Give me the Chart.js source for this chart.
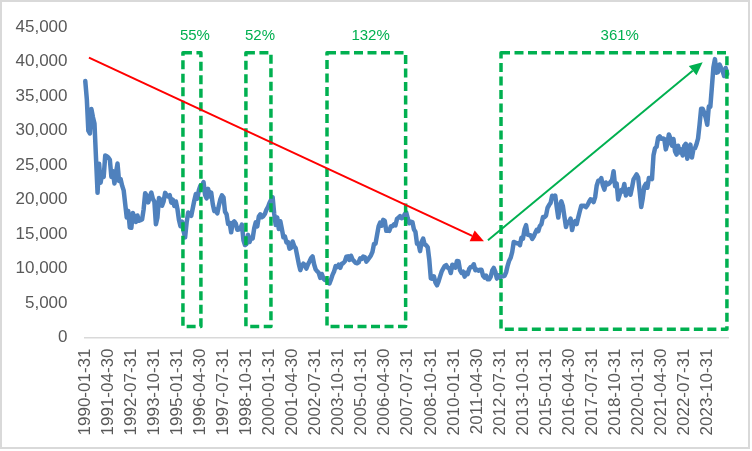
<!DOCTYPE html>
<html>
<head>
<meta charset="utf-8">
<script src="https://cdn.jsdelivr.net/npm/chart.js@4.4.1/dist/chart.umd.min.js"></script>
<style>
  html, body { margin: 0; padding: 0; background: #ffffff; }
  #wrap { width: 752px; height: 451px; position: relative; }
</style>
</head>
<body>
<div id="wrap"><canvas id="chart" width="752" height="451"></canvas></div>
<script>
// month-end closes, Jan 1990 .. Nov 2024 (one row per year)
const closes = [
  37189, 34591, 29980, 29584, 33131, 31940, 31036, 25978, 20984, 25194, 22454, 23849,
  23293, 26409, 26292, 26111, 25790, 23291, 24121, 22336, 23916, 25222, 22688, 22984,
  22023, 21339, 19346, 17391, 18348, 15952, 15910, 18061, 17399, 16767, 17684, 16925,
  17024, 17113, 18591, 20919, 20552, 19590, 20380, 21027, 20106, 19704, 16408, 17417,
  20229, 19997, 19112, 19725, 20974, 20644, 20450, 20629, 19564, 19990, 19076, 19723,
  18650, 17053, 16140, 16807, 15437, 14517, 16678, 18117, 17913, 17655, 18744, 19868,
  20813, 20125, 21407, 22041, 21956, 22531, 20693, 20167, 21556, 20467, 21020, 19361,
  18330, 18557, 18003, 19151, 20069, 20605, 20331, 18229, 17888, 16459, 16636, 15259,
  16629, 16832, 16527, 15641, 15671, 15831, 16379, 14108, 13406, 13565, 14884, 13842,
  14499, 14368, 15837, 16702, 16112, 17530, 17862, 17437, 17605, 17942, 18558, 18934,
  19540, 19960, 20337, 17974, 16332, 17411, 15727, 16861, 15747, 14540, 14649, 13786,
  13844, 12884, 12999, 13934, 13262, 12969, 11861, 10714, 9775, 10367, 10697, 10543,
  9998, 10588, 11025, 11493, 11764, 10622, 9878, 9619, 9383, 8640, 9216, 8579,
  8340, 8363, 7973, 7831, 8425, 9083, 9563, 10344, 10219, 10560, 10101, 10677,
  10783, 11042, 11715, 11762, 11237, 11859, 11326, 11082, 10824, 10771, 10899, 11489,
  11388, 11741, 11669, 11009, 11277, 11584, 11900, 12414, 13574, 13607, 14872, 16111,
  16650, 16205, 17060, 16907, 15467, 15505, 15457, 16141, 16128, 16399, 16274, 17226,
  17383, 17604, 17288, 17400, 17876, 18138, 17249, 16569, 16786, 16737, 15681, 15308,
  13592, 13603, 12526, 13850, 14339, 13481, 13377, 13073, 11260, 8577, 8512, 8860,
  7994, 7568, 8110, 8828, 9523, 9958, 10357, 10493, 10133, 10035, 9346, 10546,
  10198, 10126, 11090, 11057, 9769, 9383, 9537, 8824, 9369, 9202, 9937, 10229,
  10237, 10624, 9755, 9850, 9694, 9816, 9833, 8955, 8700, 8988, 8434, 8455,
  8803, 9723, 10084, 9521, 8543, 9007, 8695, 8840, 8870, 8928, 9446, 10395,
  11139, 11559, 12398, 13861, 13775, 13677, 13668, 13389, 14456, 14328, 15662, 16291,
  14915, 14841, 14828, 14304, 14632, 15162, 15621, 15425, 16174, 16414, 17460, 17451,
  17674, 18798, 19207, 19520, 20563, 20236, 20585, 18890, 17388, 19083, 19747, 19034,
  17518, 16027, 16759, 16666, 17235, 15576, 16569, 16887, 16450, 17425, 18308, 19114,
  19041, 19119, 18909, 19197, 19651, 20033, 19925, 19646, 20356, 22012, 22725, 22765,
  23098, 22068, 21454, 22468, 22202, 22305, 22554, 22865, 24120, 21920, 22351, 20015,
  20773, 21385, 21206, 22259, 20601, 21276, 21522, 20704, 21756, 22927, 23294, 23657,
  23205, 21143, 18917, 20194, 21878, 22288, 21710, 23140, 23185, 22977, 26434, 27444,
  27663, 28966, 29179, 28813, 28860, 28792, 27284, 28090, 29453, 28893, 27822, 28792,
  27002, 26527, 27821, 26848, 27280, 26393, 27802, 28092, 25937, 27587, 27969, 26095,
  27327, 27446, 28041, 28856, 30888, 33189, 33172, 32619, 31858, 30859, 33487, 33464,
  36287, 39166, 40369, 38406, 38488, 39583, 39102, 38648, 37920, 39081, 38208
];

const firstYear = 1990;
const monthEnds = ['01-31', '02-28', '03-31', '04-30', '05-31', '06-30', '07-31', '08-31', '09-30', '10-31', '11-30', '12-31'];
const labelEvery = 15;
const yTicks = [0, 5000, 10000, 15000, 20000, 25000, 30000, 35000, 40000, 45000];

// annotation boxes: month index range and value range
const boxes = [
  { from: 63.6, to: 75.3, low: 1600, high: 41300, text: '55%', textAt: 71.4 },
  { from: 104.6, to: 120.9, low: 1600, high: 41300, text: '52%', textAt: 113.8 },
  { from: 157.4, to: 208.6, low: 1600, high: 41300, text: '132%', textAt: 185.8 },
  { from: 270.7, to: 417.8, low: 1200, high: 41300, text: '361%', textAt: 348 }
];
const labelValue = 43700;
const arrows = [
  { x1: 2.4, y1: 40600, x2: 259.6, y2: 13950, color: '#FF0000' },
  { x1: 262.2, y1: 14100, x2: 402, y2: 39900, color: '#00B050' }
];

const labels = [];
for (let i = 0; i < closes.length; i++) {
  const y = firstYear + Math.floor(i / 12);
  const m = i % 12;
  let end = monthEnds[m];
  if (m === 1 && y % 4 === 0) end = '02-29';
  labels.push(y + '-' + end);
}

const annotate = {
  id: 'annotate',
  afterDatasetsDraw(chart) {
    const ctx = chart.ctx;
    const xs = chart.scales.x, ys = chart.scales.y;
    ctx.save();
    // dashed boxes
    ctx.strokeStyle = '#00B050';
    ctx.lineWidth = 3.5;
    ctx.lineJoin = 'round';
    ctx.setLineDash([9, 4.5]);
    boxes.forEach(b => {
      const l = xs.getPixelForValue(b.from), r = xs.getPixelForValue(b.to);
      const t = ys.getPixelForValue(b.high), btm = ys.getPixelForValue(b.low);
      ctx.strokeRect(l, t, r - l, btm - t);
    });
    ctx.setLineDash([]);
    ctx.fillStyle = '#00B050';
    ctx.font = '15px "Liberation Sans", Arial, sans-serif';
    ctx.textAlign = 'center';
    ctx.textBaseline = 'middle';
    boxes.forEach(b => {
      ctx.fillText(b.text, xs.getPixelForValue(b.textAt), ys.getPixelForValue(labelValue));
    });
    // arrows
    arrows.forEach(a => {
      const x1 = xs.getPixelForValue(a.x1), y1 = ys.getPixelForValue(a.y1);
      const x2 = xs.getPixelForValue(a.x2), y2 = ys.getPixelForValue(a.y2);
      const ang = Math.atan2(y2 - y1, x2 - x1);
      const len = 13, half = 6;
      const bx = x2 - len * Math.cos(ang), by = y2 - len * Math.sin(ang);
      ctx.strokeStyle = a.color;
      ctx.fillStyle = a.color;
      ctx.lineWidth = 2;
      ctx.beginPath();
      ctx.moveTo(x1, y1);
      ctx.lineTo(bx, by);
      ctx.stroke();
      ctx.beginPath();
      ctx.moveTo(x2, y2);
      ctx.lineTo(bx + half * Math.sin(ang), by - half * Math.cos(ang));
      ctx.lineTo(bx - half * Math.sin(ang), by + half * Math.cos(ang));
      ctx.closePath();
      ctx.fill();
    });
    ctx.restore();
  },
  afterDraw(chart) {
    const ctx = chart.ctx;
    ctx.save();
    ctx.strokeStyle = '#D9D9D9';
    ctx.lineWidth = 2;
    ctx.strokeRect(1, 1, 748, 447);
    ctx.restore();
  }
};

const tickFont = { family: '"Liberation Sans", Arial, sans-serif', size: 17 };

new Chart(document.getElementById('chart'), {
  type: 'line',
  data: {
    labels: labels,
    datasets: [{
      data: closes,
      borderColor: '#4F81BD',
      borderWidth: 4.5,
      pointRadius: 0,
      borderJoinStyle: 'round',
      borderCapStyle: 'round',
      tension: 0,
      fill: false
    }]
  },
  options: {
    responsive: false,
    animation: false,
    devicePixelRatio: 1,
    layout: { padding: { left: 0, top: 23.5, right: 24, bottom: 0 } },
    plugins: { legend: { display: false }, tooltip: { enabled: false } },
    scales: {
      x: {
        type: 'category',
        offset: true,
        grid: { display: false, drawTicks: false },
        border: { display: true, color: '#D9D9D9', width: 1.5 },
        ticks: {
          autoSkip: false,
          minRotation: 90,
          maxRotation: 90,
          padding: 11,
          color: '#595959',
          font: tickFont,
          callback: (v, i) => (i % labelEvery === 0 ? labels[i] : '')
        },
        afterFit: s => {
          s.height = 113.5;
          s.paddingLeft = 0;
          s.paddingRight = 0;
        }
      },
      y: {
        min: yTicks[0],
        max: yTicks[yTicks.length - 1],
        grid: { display: false, drawTicks: false },
        border: { display: false },
        ticks: {
          stepSize: 5000,
          padding: 17,
          color: '#595959',
          font: tickFont,
          callback: v => v.toLocaleString('en-US')
        },
        afterFit: s => { s.width = 84.5; }
      }
    }
  },
  plugins: [annotate]
});
</script>
</body>
</html>
